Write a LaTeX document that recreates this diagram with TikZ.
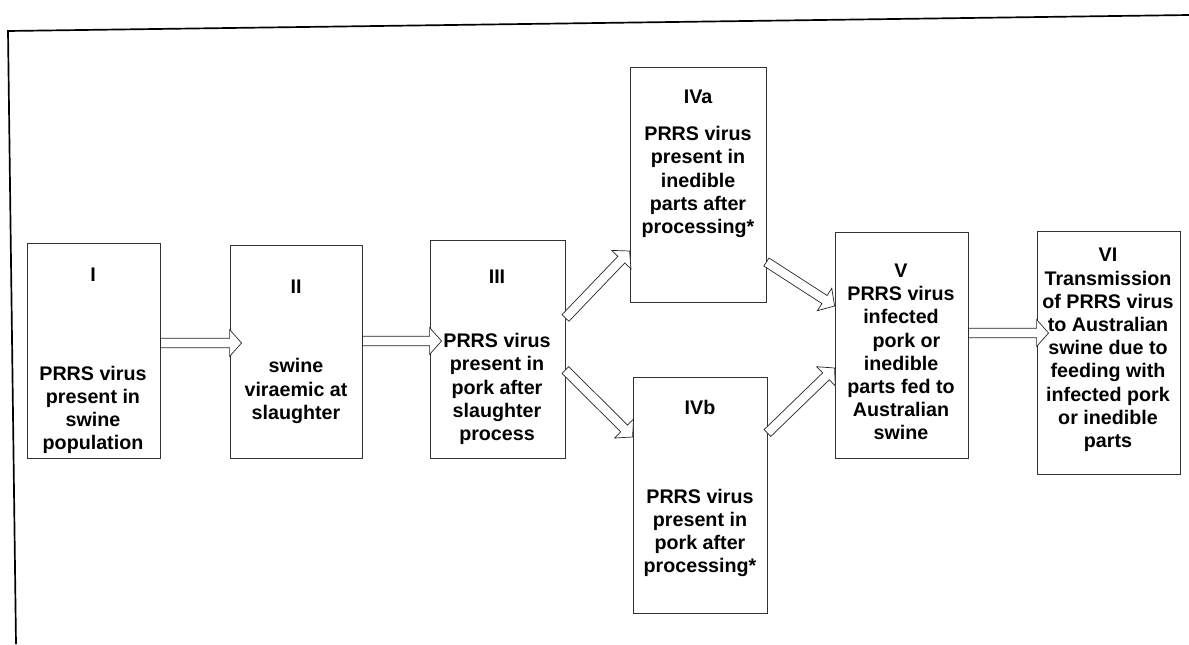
\documentclass[tikz,border=0pt]{standalone}
\usepackage{fontspec}
\setmainfont{Liberation Sans}
\usetikzlibrary{calc}

% hollow block arrow between two named points
\newcommand{\hollowarrow}[2]{%
    \coordinate (ha) at (#1);
    \coordinate (hb) at (#2);
    \coordinate (hn) at ($(hb)!8.5pt!(ha)$);
    \draw[blockarrow] ($(ha)!3.4pt!90:(hb)$) -- ($(hn)!3.4pt!90:(hb)$) -- ($(hn)!9.5pt!90:(hb)$)
        -- (hb) -- ($(hn)!9.5pt!-90:(hb)$) -- ($(hn)!3.4pt!-90:(hb)$) -- ($(ha)!3.4pt!-90:(hb)$) -- cycle;
}

\begin{document}
\begin{tikzpicture}[
                x=0.025cm, y=-0.025cm,
                every node/.style={font=\bfseries\fontsize{14}{16.5}\selectfont},
                stagebox/.style={rectangle, draw=black!80, line width=0.6pt, inner sep=0pt},
                stagetext/.style={align=center, inner sep=0pt},
                blockarrow/.style={draw=black!85, line width=0.5pt, fill=white, line join=miter},
                frameline/.style={draw=black, line width=1.2pt}
            ]
                \useasboundingbox (0,0) rectangle (1189,644);

                % Outer frame (top and left only)
                \draw[frameline] (16,644) -- (8,31) -- (1189,15);

                % Stage boxes
                \foreach \nm/\cx/\cy/\w/\h in {I/93.5/350.5/133/215, II/296/351.5/132/213,
                        III/497.5/349/135/218, IVa/698/184.5/136/235, IVb/700/495/134/236,
                        V/901.5/345/133/226, VI/1108.5/352.5/143/243} {
                    \node[stagebox, minimum width=\w*0.025cm, minimum height=\h*0.025cm] (box\nm) at (\cx,\cy) {};
                }

                % Stage numbers
                \node[stagetext] (numI)   at (93,275)  {I};
                \node[stagetext] (numII)  at (296,287) {II};
                \node[stagetext] (numIII) at (497,277) {III};
                \node[stagetext] (numIVa) at (698,97)  {IVa};
                \node[stagetext] (numIVb) at (700,407) {IVb};

                % Stage descriptions
                \node[stagetext] (txtI)   at (93,410)  {PRRS virus\\present in\\swine\\population};
                \node[stagetext] (txtII)  at (296,391) {swine\\viraemic at\\slaughter};
                \node[stagetext] (txtIII) at (497,389) {PRRS virus\\present in\\pork after\\slaughter\\process};
                \node[stagetext] (txtIVa) at (698,182) {PRRS virus\\present in\\inedible\\parts after\\processing*};
                \node[stagetext] (txtIVb) at (700,533) {PRRS virus\\present in\\pork after\\processing*};
                \node[stagetext] (txtV)   at (901,352) {V\\PRRS virus\\infected\\\ \ pork or\\inedible\\parts fed to\\Australian\\swine};
                \node[stagetext] (txtVI)  at (1108,350) {VI\\Transmission\\of PRRS virus\\to Australian\\swine due to\\feeding with\\infected pork\\or inedible\\parts};

                % Arrow ends on the box sides
                \coordinate (outI)   at (boxI.east |- 0,343);
                \coordinate (inII)   at ($(boxII.west |- 0,343)+(12,0)$);
                \coordinate (outII)  at (boxII.east |- 0,341);
                \coordinate (inIII)  at ($(boxIII.west |- 0,341)+(12,0)$);
                \coordinate (outIIIa) at (boxIII.east |- 0,318);
                \coordinate (inIVa)  at (boxIVa.west |- 0,251);
                \coordinate (outIIIb) at (boxIII.east |- 0,370);
                \coordinate (inIVb)  at (boxIVb.west |- 0,437);
                \coordinate (outIVa) at (boxIVa.east |- 0,262);
                \coordinate (inVa)   at (boxV.west |- 0,306);
                \coordinate (outIVb) at (boxIVb.east |- 0,433);
                \coordinate (inVb)   at (boxV.west |- 0,368);
                \coordinate (outV)   at (boxV.east |- 0,333);
                \coordinate (inVI)   at ($(boxVI.west |- 0,333)+(12,0)$);

                % Hollow arrows between stages
                \hollowarrow{outI}{inII}
                \hollowarrow{outII}{inIII}
                \hollowarrow{outIIIa}{inIVa}
                \hollowarrow{outIIIb}{inIVb}
                \hollowarrow{outIVa}{inVa}
                \hollowarrow{outIVb}{inVb}
                \hollowarrow{outV}{inVI}
            \end{tikzpicture}
\end{document}
